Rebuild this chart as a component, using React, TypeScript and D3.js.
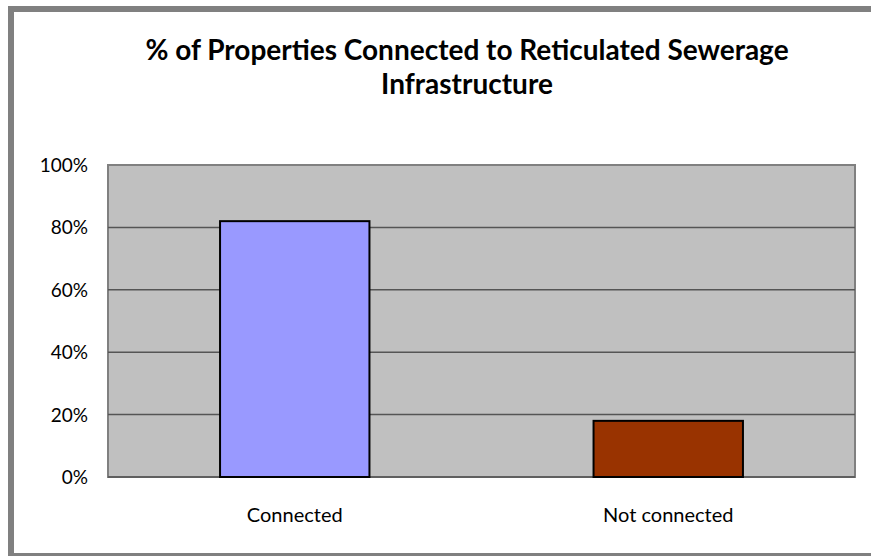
import React from "react";
import * as d3 from "d3";

const categories = ["Connected", "Not connected"];
const values = [0.82, 0.18];
const barColors = ["#9999ff", "#993300"];
const yTicks = [0, 0.2, 0.4, 0.6, 0.8, 1.0];
const titleLines = ["% of Properties Connected to Reticulated Sewerage", "Infrastructure"];

export default function App() {
  const W = 871, H = 556;
  const plot = { left: 108, right: 855, top: 165, bottom: 477 };
  const x = d3.scaleBand<string>().domain(categories).range([plot.left, plot.right]).paddingInner(0.6).paddingOuter(0.3);
  const y = d3.scaleLinear().domain([0, 1]).range([plot.bottom, plot.top]);
  const fmt = d3.format(".0%");
  const font = "Lato, 'Open Sans', sans-serif";
  return (
    <svg width={W} height={H} style={{ position: "absolute", left: 0, top: 0 }}>
      <rect x={0} y={0} width={W} height={H} fill="#ffffff" />
      <rect x={11} y={9} width={W + 20} height={547} fill="none" stroke="#808080" strokeWidth={6} />
      {titleLines.map((t, i) => (
        <text key={i} x={467} y={60 + i * 34} textAnchor="middle" fontFamily={font} fontWeight="bold" fontSize={28} fill="#000">
          {t}
        </text>
      ))}
      <rect x={plot.left} y={plot.top} width={plot.right - plot.left} height={plot.bottom - plot.top} fill="#c0c0c0" stroke="#808080" strokeWidth={2} />
      {yTicks.filter((t) => t > 0 && t < 1).map((t) => (
        <line key={t} x1={plot.left} x2={plot.right} y1={y(t)} y2={y(t)} stroke="#555555" strokeWidth={1.5} />
      ))}
      <line x1={plot.left} x2={plot.right} y1={y(0)} y2={y(0)} stroke="#555555" strokeWidth={1.5} />
      {categories.map((c, i) => (
        <rect key={c} x={x(c)} y={y(values[i])} width={x.bandwidth()} height={y(0) - y(values[i])} fill={barColors[i]} stroke="#000" strokeWidth={2} />
      ))}
      {yTicks.map((t) => (
        <text key={t} x={88} y={y(t) + 7} textAnchor="end" fontFamily={font} fontSize={19} fill="#000">
          {fmt(t)}
        </text>
      ))}
      {categories.map((c) => (
        <text key={c} x={(x(c) as number) + x.bandwidth() / 2} y={522} textAnchor="middle" fontFamily={font} fontSize={20} fill="#000">
          {c}
        </text>
      ))}
    </svg>
  );
}
